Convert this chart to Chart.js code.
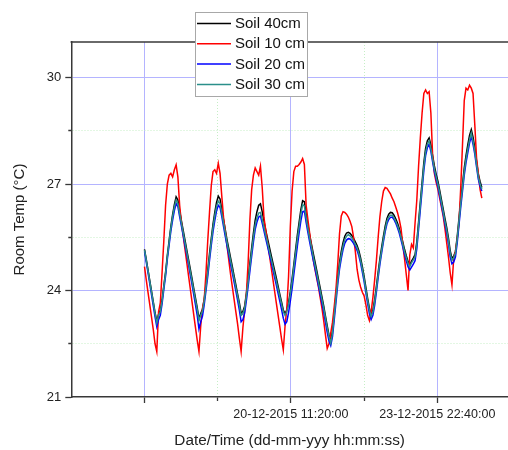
<!DOCTYPE html>
<html>
<head>
<meta charset="utf-8">
<script src="https://cdn.jsdelivr.net/npm/chart.js@4/dist/chart.umd.min.js"></script>
<style>
  html, body { margin: 0; padding: 0; background: #ffffff; }
  #wrap { width: 508px; height: 450px; position: relative; }
</style>
</head>
<body>
<div id="wrap"><canvas id="c" width="508" height="450"></canvas></div>
<script>
// ---- Data (hourly readings starting 17-12-2015 00:00:00) ----
const seriesNames = ['Soil 40cm', 'Soil 10 cm', 'Soil 20 cm', 'Soil 30 cm'];

const soil40 = [
  25.16, 24.88, 24.58, 24.28, 23.98, 23.68, 23.38, 23.12, 23.33, 23.44, 23.74, 24.14, 24.52, 24.99, 25.4, 25.8, 26.14, 26.42, 26.64, 26.55, 26.25, 25.97, 25.7, 25.43,
  25.16, 24.89, 24.62, 24.35, 24.07, 23.79, 23.52, 23.2, 23.35, 23.47, 23.76, 24.16, 24.57, 25.03, 25.46, 25.87, 26.2, 26.48, 26.66, 26.58, 26.28, 25.99, 25.71, 25.42,
  25.17, 24.92, 24.67, 24.41, 24.16, 23.9, 23.65, 23.36, 23.41, 23.56, 23.92, 24.33, 24.77, 25.2, 25.62, 25.98, 26.22, 26.4, 26.44, 26.22, 25.95, 25.7, 25.47, 25.24,
  25.02, 24.8, 24.58, 24.36, 24.13, 23.9, 23.68, 23.45, 23.35, 23.45, 23.66, 23.97, 24.33, 24.74, 25.15, 25.56, 25.92, 26.28, 26.53, 26.5, 26.16, 25.85, 25.56, 25.31,
  25.06, 24.82, 24.57, 24.32, 24.07, 23.82, 23.57, 23.28, 23.0, 22.75, 22.56, 22.86, 23.37, 23.88, 24.39, 24.79, 25.1, 25.35, 25.53, 25.62, 25.64, 25.61, 25.55, 25.47,
  25.37, 25.27, 25.12, 24.92, 24.67, 24.4, 24.09, 23.78, 23.5, 23.32, 23.45, 23.74, 24.12, 24.52, 24.9, 25.22, 25.53, 25.81, 26.03, 26.15, 26.2, 26.19, 26.12, 26.02,
  25.9, 25.75, 25.57, 25.37, 25.16, 24.98, 24.82, 24.72, 24.83, 24.91, 25.01, 25.37, 25.93, 26.49, 27.05, 27.6, 28.0, 28.22, 28.3, 28.1, 27.8, 27.51, 27.28, 27.08,
  26.83, 26.56, 26.3, 26.03, 25.78, 25.48, 25.12, 24.9, 24.97, 25.1, 25.52, 26.03, 26.54, 27.0, 27.45, 27.8, 28.1, 28.37, 28.53, 28.32, 28.02, 27.64, 27.28, 27.07, 26.9
];

const soil10 = [
  24.67, 24.3, 23.95, 23.6, 23.25, 22.9, 22.5, 22.28, 23.4, 23.65, 24.5, 25.4, 26.4, 27.0, 27.25, 27.3, 27.2, 27.4, 27.54, 27.2, 26.4, 25.92, 25.55, 25.18,
  24.81, 24.44, 24.07, 23.7, 23.33, 22.96, 22.6, 22.28, 23.0, 23.5, 23.75, 24.5, 25.4, 26.2, 26.95, 27.35, 27.4, 27.3, 27.58, 27.3, 26.65, 26.05, 25.65, 25.25,
  24.85, 24.45, 24.1, 23.75, 23.4, 23.05, 22.65, 22.28, 22.95, 23.45, 23.9, 24.8, 26.0, 26.84, 27.25, 27.45, 27.35, 27.25, 27.5, 26.9, 26.05, 25.7, 25.37, 25.03,
  24.69, 24.35, 24.0, 23.66, 23.32, 22.98, 22.64, 22.33, 23.0, 23.5, 24.4, 25.8, 26.8, 27.35, 27.5, 27.5, 27.55, 27.62, 27.72, 27.55, 26.4, 26.0, 25.62, 25.25,
  24.88, 24.6, 24.35, 24.1, 23.8, 23.5, 23.15, 22.75, 22.37, 22.5, 22.8, 23.1, 23.55, 24.05, 24.75, 25.6, 26.1, 26.22, 26.2, 26.15, 26.07, 25.95, 25.8, 25.5,
  25.1, 24.6, 24.3, 24.1, 23.95, 23.85, 23.6, 23.3, 23.15, 23.4, 23.8, 24.3, 24.85, 25.5, 26.08, 26.5, 26.8, 26.9, 26.88, 26.8, 26.72, 26.6, 26.5, 26.35,
  26.2, 26.0, 25.75, 25.3, 24.9, 24.45, 24.0, 25.0, 25.3, 25.2, 25.9, 26.55, 27.5, 28.3, 29.0, 29.55, 29.65, 29.55, 29.6, 29.0, 27.8, 27.3, 27.05, 26.85,
  26.6, 26.35, 26.1, 25.75, 25.35, 24.95, 24.5, 24.16, 24.9, 25.1, 25.45, 25.9, 26.9, 28.1, 29.35, 29.7, 29.65, 29.78, 29.7, 29.55, 28.67, 27.73, 27.3, 26.85, 26.6
];

const soil20 = [
  25.1, 24.8, 24.5, 24.19, 23.88, 23.57, 23.26, 22.98, 23.18, 23.3, 23.62, 24.03, 24.41, 24.88, 25.28, 25.67, 25.98, 26.25, 26.45, 26.36, 26.08, 25.82, 25.55, 25.28,
  25.02, 24.74, 24.46, 24.18, 23.89, 23.6, 23.3, 22.92, 23.12, 23.28, 23.6, 24.0, 24.4, 24.85, 25.27, 25.66, 25.97, 26.24, 26.4, 26.34, 26.08, 25.8, 25.52, 25.25,
  24.99, 24.74, 24.49, 24.24, 23.98, 23.72, 23.45, 23.12, 23.18, 23.36, 23.72, 24.12, 24.55, 24.97, 25.37, 25.72, 25.93, 26.07, 26.1, 25.9, 25.68, 25.46, 25.25, 25.03,
  24.82, 24.6, 24.38, 24.16, 23.93, 23.7, 23.47, 23.22, 23.05, 23.12, 23.38, 23.7, 24.05, 24.45, 24.85, 25.25, 25.62, 25.96, 26.22, 26.24, 25.92, 25.64, 25.37, 25.12,
  24.87, 24.63, 24.39, 24.14, 23.89, 23.64, 23.39, 23.1, 22.82, 22.58, 22.45, 22.7, 23.18, 23.68, 24.18, 24.6, 24.9, 25.15, 25.33, 25.42, 25.46, 25.45, 25.4, 25.33,
  25.24, 25.13, 24.98, 24.77, 24.52, 24.25, 23.94, 23.63, 23.35, 23.18, 23.3, 23.58, 23.96, 24.36, 24.74, 25.07, 25.38, 25.66, 25.88, 26.0, 26.06, 26.07, 26.0, 25.9,
  25.77, 25.62, 25.43, 25.23, 25.02, 24.84, 24.67, 24.58, 24.66, 24.74, 24.84, 25.18, 25.73, 26.28, 26.83, 27.38, 27.8, 28.02, 28.12, 27.92, 27.62, 27.35, 27.13, 26.93,
  26.68, 26.41, 26.15, 25.88, 25.62, 25.31, 24.95, 24.75, 24.8, 24.95, 25.35, 25.85, 26.35, 26.8, 27.25, 27.6, 27.88, 28.15, 28.34, 28.12, 27.84, 27.48, 27.14, 26.94, 26.8
];

const soil30 = [
  25.14, 24.85, 24.55, 24.25, 23.95, 23.65, 23.35, 23.09, 23.3, 23.4, 23.7, 24.1, 24.48, 24.95, 25.35, 25.75, 26.08, 26.35, 26.55, 26.45, 26.17, 25.9, 25.63, 25.36,
  25.09, 24.82, 24.55, 24.28, 24.0, 23.73, 23.46, 23.15, 23.3, 23.42, 23.7, 24.1, 24.5, 24.95, 25.38, 25.78, 26.1, 26.37, 26.52, 26.45, 26.18, 25.9, 25.62, 25.34,
  25.09, 24.84, 24.59, 24.34, 24.09, 23.84, 23.59, 23.3, 23.35, 23.5, 23.85, 24.25, 24.68, 25.1, 25.5, 25.85, 26.05, 26.18, 26.2, 26.0, 25.78, 25.56, 25.35, 25.13,
  24.92, 24.7, 24.48, 24.27, 24.05, 23.83, 23.62, 23.4, 23.3, 23.4, 23.6, 23.9, 24.25, 24.65, 25.05, 25.45, 25.8, 26.15, 26.42, 26.38, 26.05, 25.75, 25.47, 25.22,
  24.97, 24.73, 24.49, 24.24, 23.99, 23.75, 23.5, 23.22, 22.95, 22.7, 22.52, 22.8, 23.3, 23.8, 24.3, 24.7, 25.0, 25.25, 25.43, 25.53, 25.57, 25.54, 25.48, 25.4,
  25.3, 25.2, 25.05, 24.85, 24.6, 24.33, 24.02, 23.72, 23.45, 23.27, 23.4, 23.68, 24.05, 24.45, 24.82, 25.14, 25.45, 25.73, 25.95, 26.07, 26.12, 26.12, 26.05, 25.95,
  25.83, 25.68, 25.5, 25.3, 25.1, 24.92, 24.76, 24.67, 24.78, 24.86, 24.95, 25.3, 25.85, 26.4, 26.95, 27.5, 27.9, 28.12, 28.22, 28.0, 27.7, 27.42, 27.2, 27.0,
  26.75, 26.48, 26.22, 25.95, 25.7, 25.4, 25.05, 24.85, 24.92, 25.05, 25.45, 25.95, 26.45, 26.9, 27.35, 27.7, 27.98, 28.25, 28.43, 28.2, 27.92, 27.55, 27.2, 27.0, 26.85
];

// sample times: hours since 17-12-2015 00:00:00, one reading per hour
const sampleHours = soil30.map((_, i) => i);

// axis ticks (hours since 17-12-2015 00:00:00)
const xMajorTicks = [0, 83.3333, 166.6667];
const xMinorTicks = [41.6667, 125];
const xTickLabels = ['', '20-12-2015 11:20:00', '23-12-2015 22:40:00'];
const yMajorTicks = [21, 24, 27, 30];
const yMinorTicks = [22.5, 25.5, 28.5];
const yTickLabels = ['21', '24', '27', '30'];

// ---- Chart ----
const FONT = 'Liberation Sans, Arial, sans-serif';
Chart.defaults.font.family = FONT;
Chart.defaults.color = '#222';

const near = (a, b) => Math.abs(a - b) < 0.01;
const isIn = (v, arr) => arr.some(t => near(v, t));
const MAJOR_GRID = '#b4b4ff';
const MINOR_GRID = '#c6eec6';
const AXIS = '#383838';

function toPts(vals) { return vals.map((v, i) => ({ x: sampleHours[i], y: v })); }

const colors = ['#000000', '#ff0000', '#0000ff', '#2b8f8a'];
const allSeries = [soil40, soil10, soil20, soil30];
const orders = [3, 2, 1, 0];

const datasets = allSeries.map((vals, i) => ({
  label: seriesNames[i],
  data: toPts(vals),
  borderColor: colors[i],
  backgroundColor: colors[i],
  borderWidth: 1.5,
  pointRadius: 0,
  tension: 0,
  fill: false,
  order: orders[i]
}));

const framePlugin = {
  id: 'frame',
  afterDraw(chart) {
    const { ctx, chartArea } = chart;
    ctx.save();
    // top frame line
    ctx.strokeStyle = AXIS;
    ctx.lineWidth = 1.5;
    ctx.beginPath();
    ctx.moveTo(chartArea.left - 0.75, chartArea.top);
    ctx.lineTo(chartArea.right, chartArea.top);
    ctx.stroke();

    // legend box
    const bx = 195.5, by = 12.5, bw = 112, bh = 84;
    ctx.fillStyle = '#ffffff';
    ctx.fillRect(bx, by, bw, bh);
    ctx.strokeStyle = '#a8a8a8';
    ctx.lineWidth = 1;
    ctx.strokeRect(bx, by, bw, bh);
    ctx.font = '15px ' + FONT;
    ctx.textBaseline = 'middle';
    ctx.textAlign = 'left';
    chart.data.datasets.forEach((ds, i) => {
      const y = 23.5 + i * 20.3;
      ctx.strokeStyle = ds.borderColor;
      ctx.lineWidth = 1.5;
      ctx.beginPath();
      ctx.moveTo(197, y);
      ctx.lineTo(231, y);
      ctx.stroke();
      ctx.fillStyle = '#111';
      ctx.fillText(ds.label, 235, y + 0.5);
    });
    ctx.restore();
  }
};

new Chart(document.getElementById('c'), {
  type: 'line',
  data: { datasets },
  plugins: [framePlugin],
  options: {
    responsive: false,
    animation: false,
    layout: { padding: { left: 0, top: 42, right: 0, bottom: 0 } },
    plugins: { legend: { display: false }, tooltip: { enabled: false } },
    scales: {
      x: {
        type: 'linear',
        min: -41.6667,
        max: 206.9,
        afterBuildTicks(scale) {
          scale.ticks = [-41.6667, ...xMajorTicks, ...xMinorTicks].sort((a, b) => a - b).map(v => ({ value: v }));
        },
        afterFit(scale) { scale.height = 53; },
        ticks: {
          autoSkip: false,
          maxRotation: 0,
          minRotation: 0,
          padding: 4,
          color: '#222',
          font: { size: 12.5 },
          callback(v) {
            const k = xMajorTicks.findIndex(t => near(t, v));
            return k >= 0 ? xTickLabels[k] : '';
          }
        },
        grid: {
          color(ctx) {
            const v = ctx.tick ? ctx.tick.value : null;
            if (v === null) return 'rgba(0,0,0,0)';
            if (isIn(v, xMajorTicks)) return MAJOR_GRID;
            if (isIn(v, xMinorTicks)) return MINOR_GRID;
            return 'rgba(0,0,0,0)';
          },
          lineWidth: 1,
          tickLength: 6,
          tickWidth: 1.3,
          tickColor(ctx) {
            const v = ctx.tick ? ctx.tick.value : null;
            if (v === null || near(v, -41.6667)) return 'rgba(0,0,0,0)';
            return AXIS;
          },
          tickBorderDash(ctx) {
            const v = ctx.tick ? ctx.tick.value : null;
            return (v !== null && isIn(v, xMinorTicks)) ? [3.5, 20] : [];
          }
        },
        border: {
          color: AXIS,
          width: 1.5,
          dash(ctx) {
            const v = ctx.tick ? ctx.tick.value : null;
            return (v !== null && isIn(v, xMinorTicks)) ? [1, 2] : [];
          }
        },
        title: {
          display: true,
          text: 'Date/Time (dd-mm-yyy hh:mm:ss)',
          color: '#222',
          font: { size: 15.3 },
          padding: { top: 0, bottom: 0 }
        }
      },
      y: {
        type: 'linear',
        min: 21,
        max: 31,
        afterBuildTicks(scale) {
          scale.ticks = [...yMajorTicks, ...yMinorTicks].sort((a, b) => a - b).map(v => ({ value: v }));
        },
        afterFit(scale) { scale.width = 71.3; },
        ticks: {
          padding: 4,
          color: '#222',
          font: { size: 13 },
          callback(v) {
            const k = yMajorTicks.findIndex(t => near(t, v));
            return k >= 0 ? yTickLabels[k] : '';
          }
        },
        grid: {
          color(ctx) {
            const v = ctx.tick ? ctx.tick.value : null;
            if (v === null || near(v, 21)) return 'rgba(0,0,0,0)';
            if (isIn(v, yMajorTicks)) return MAJOR_GRID;
            if (isIn(v, yMinorTicks)) return MINOR_GRID;
            return 'rgba(0,0,0,0)';
          },
          lineWidth: 1,
          tickLength: 6,
          tickWidth: 1.3,
          tickColor: AXIS,
          tickBorderDash(ctx) {
            const v = ctx.tick ? ctx.tick.value : null;
            return (v !== null && isIn(v, yMinorTicks)) ? [0, 3, 3, 20] : [];
          }
        },
        border: {
          color: AXIS,
          width: 1.5,
          dash(ctx) {
            const v = ctx.tick ? ctx.tick.value : null;
            return (v !== null && isIn(v, yMinorTicks)) ? [1, 2] : [];
          }
        },
        title: {
          display: true,
          text: 'Room Temp (°C)',
          color: '#222',
          font: { size: 15 },
          padding: { top: 10.5, bottom: 0 }
        }
      }
    }
  }
});
</script>
</body>
</html>
